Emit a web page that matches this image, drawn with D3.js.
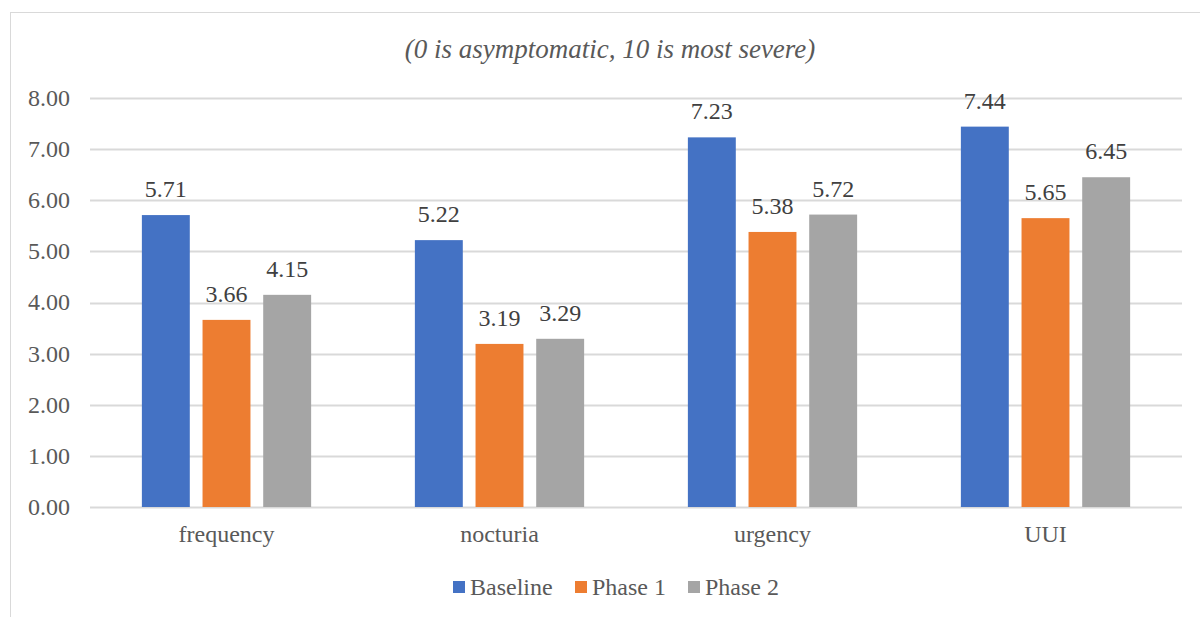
<!DOCTYPE html>
<html>
<head>
<meta charset="utf-8">
<script src="https://cdn.jsdelivr.net/npm/d3@7"></script>
</head>
<body style="margin:0">
<script>
const categories = ["frequency", "nocturia", "urgency", "UUI"];
const seriesNames = ["Baseline", "Phase 1", "Phase 2"];
const baseline = [5.71, 5.22, 7.23, 7.44];
const phase1 = [3.66, 3.19, 5.38, 5.65];
const phase2 = [4.15, 3.29, 5.72, 6.45];
const colors = ["#4472C4", "#ED7D31", "#A5A5A5"];
const yTicks = [0, 1, 2, 3, 4, 5, 6, 7, 8];

const width = 1200, height = 617;
const margin = { left: 90, right: 18, top: 98, bottom: 110 };
const serif = "'Liberation Serif'";
const fs = 24;

const svg = d3.select("body").append("svg")
  .attr("width", width).attr("height", height)
  .style("display", "block");

// chart area border
svg.append("rect")
  .attr("x", 10.5).attr("y", 12.5)
  .attr("width", width + 20).attr("height", height + 20)
  .attr("fill", "none").attr("stroke", "#d9d9d9").attr("stroke-width", 1);

svg.append("text")
  .attr("x", 610).attr("y", 58)
  .attr("text-anchor", "middle")
  .style("font-family", serif)
  .style("font-style", "italic")
  .attr("font-size", 27)
  .attr("fill", "#595959")
  .text("(0 is asymptomatic, 10 is most severe)");

const x0 = d3.scaleBand()
  .domain(categories)
  .range([margin.left, width - margin.right]);

const x1 = d3.scaleBand()
  .domain(seriesNames)
  .range([x0.bandwidth() * 0.19, x0.bandwidth() * 0.81])
  .paddingInner(0.21);

const y = d3.scaleLinear()
  .domain([0, 8])
  .range([height - margin.bottom, margin.top]);

// gridlines
svg.append("g")
  .selectAll("line")
  .data(yTicks)
  .join("line")
  .attr("x1", margin.left).attr("x2", width - margin.right)
  .attr("y1", d => Math.round(y(d)) + 0.5).attr("y2", d => Math.round(y(d)) + 0.5)
  .attr("stroke", "#d9d9d9").attr("stroke-width", 2);

// y tick labels
svg.append("g")
  .selectAll("text")
  .data(yTicks)
  .join("text")
  .attr("x", 70).attr("y", d => y(d))
  .attr("dy", "0.33em")
  .attr("text-anchor", "end")
  .style("font-family", serif)
  .attr("font-size", fs)
  .attr("fill", "#595959")
  .text(d => d3.format(".2f")(d));

const table = categories.map((c, i) => ({
  category: c,
  values: [baseline[i], phase1[i], phase2[i]].map((v, j) => ({ series: seriesNames[j], value: v, color: colors[j] }))
}));

const groups = svg.append("g")
  .selectAll("g")
  .data(table)
  .join("g")
  .attr("transform", d => `translate(${x0(d.category)},0)`);

groups.selectAll("rect")
  .data(d => d.values)
  .join("rect")
  .attr("x", d => x1(d.series))
  .attr("width", x1.bandwidth())
  .attr("y", d => y(d.value))
  .attr("height", d => y(0) - y(d.value))
  .attr("fill", d => d.color);

groups.selectAll("text.val")
  .data(d => d.values)
  .join("text")
  .attr("class", "val")
  .attr("x", d => x1(d.series) + x1.bandwidth() / 2)
  .attr("y", d => y(d.value) - 18)
  .attr("text-anchor", "middle")
  .style("font-family", serif)
  .attr("font-size", fs)
  .attr("fill", "#404040")
  .text(d => d3.format(".2f")(d.value));

// category labels
svg.append("g")
  .selectAll("text")
  .data(categories)
  .join("text")
  .attr("x", d => x0(d) + x0.bandwidth() / 2)
  .attr("y", y(0) + 35)
  .attr("text-anchor", "middle")
  .style("font-family", serif)
  .attr("font-size", fs)
  .attr("fill", "#595959")
  .text(d => d);

// legend
const legendX = [453, 575, 688];
const legend = svg.append("g")
  .selectAll("g")
  .data(seriesNames)
  .join("g")
  .attr("transform", (d, i) => `translate(${legendX[i]},587)`);

legend.append("rect")
  .attr("x", 0).attr("y", -6)
  .attr("width", 12).attr("height", 12)
  .attr("fill", (d, i) => colors[i]);

legend.append("text")
  .attr("x", 17).attr("y", 0)
  .attr("dy", "0.33em")
  .style("font-family", serif)
  .attr("font-size", fs)
  .attr("fill", "#595959")
  .text(d => d);
</script>
</body>
</html>
